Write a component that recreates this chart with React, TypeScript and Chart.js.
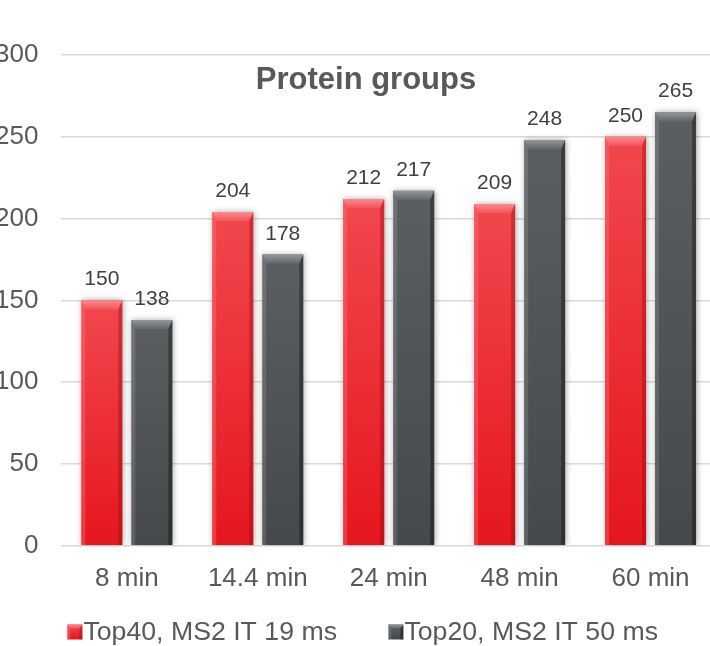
import React, { useEffect, useRef } from "react";
import { Chart, registerables } from "chart.js";
Chart.register(...registerables);

const categories = ["8 min", "14.4 min", "24 min", "48 min", "60 min"];
const top40Values = [150, 204, 212, 209, 250];
const top20Values = [138, 178, 217, 248, 265];
const seriesNames = ["Top40, MS2 IT 19 ms", "Top20, MS2 IT 50 ms"];
const yMin = 0;
const yMax = 300;
const yStep = 50;
const chartTitle = "Protein groups";

const FONT = '"Liberation Sans", Arial, Helvetica, sans-serif';
const TEXT = "#595959";
const SHIFT = 28;
const CW = 788;
const CH = 646;

const palettes = [
  { top: "#f2474e", bottom: "#e5161f", bevelTop: "#fa8a8e", bevelBottom: "#f2555b", left: "rgba(255,120,125,0.35)", right: "rgba(150,0,5,0.35)" },
  { top: "#5c5f62", bottom: "#46494c", bevelTop: "#94979a", bevelBottom: "#63666a", left: "rgba(255,255,255,0.12)", right: "rgba(0,0,0,0.35)" },
];

function bevelRect(c: CanvasRenderingContext2D, l: number, y: number, r: number, base: number, pal: any, b: number, s: number) {
  const g = c.createLinearGradient(0, y, 0, y + b);
  g.addColorStop(0, pal.bevelTop);
  g.addColorStop(1, pal.bevelBottom);
  c.beginPath();
  c.moveTo(l, y);
  c.lineTo(r, y);
  c.lineTo(r - s, y + b);
  c.lineTo(l + s, y + b);
  c.closePath();
  c.fillStyle = g;
  c.fill();
  c.beginPath();
  c.moveTo(l, y);
  c.lineTo(l + s, y + b);
  c.lineTo(l + s, base);
  c.lineTo(l, base);
  c.closePath();
  c.fillStyle = pal.left;
  c.fill();
  c.beginPath();
  c.moveTo(r, y);
  c.lineTo(r - s, y + b);
  c.lineTo(r - s, base);
  c.lineTo(r, base);
  c.closePath();
  c.fillStyle = pal.right;
  c.fill();
}

const barStyle = {
  id: "barStyle",
  beforeDatasetsDraw(chart: any) {
    const c = chart.ctx;
    c.save();
    c.shadowColor = "rgba(0,0,0,0.35)";
    c.shadowBlur = 6;
    c.shadowOffsetX = 1;
    c.shadowOffsetY = 0;
  },
  afterDatasetsDraw(chart: any) {
    const c = chart.ctx;
    c.restore();
    chart.data.datasets.forEach((ds: any, di: number) => {
      const meta = chart.getDatasetMeta(di);
      const pal = palettes[di];
      meta.data.forEach((el: any, i: number) => {
        const { x, y, base, width } = el.getProps(["x", "y", "base", "width"], true);
        const l = x - width / 2;
        const r = x + width / 2;
        c.save();
        bevelRect(c, l, y, r, base, pal, Math.min(9, (base - y) / 2), 4);
        c.restore();
        c.save();
        c.font = `21px ${FONT}`;
        c.fillStyle = "#404040";
        c.textAlign = "center";
        c.textBaseline = "alphabetic";
        c.fillText(String(ds.data[i]), x, y - 15);
        c.restore();
      });
    });
  },
  afterDraw(chart: any) {
    const c = chart.ctx;
    const cx = chart.width / 2;
    c.save();
    c.font = `bold 31px ${FONT}`;
    c.fillStyle = TEXT;
    c.textAlign = "center";
    c.textBaseline = "alphabetic";
    c.fillText(chartTitle, cx, 89);
    c.restore();

    const area = chart.chartArea;
    const startX = area.left + 6;
    const pitch = 321;
    const cy = 632;
    chart.data.datasets.forEach((ds: any, di: number) => {
      const pal = palettes[di];
      const mx = startX + di * pitch;
      const size = 15;
      const top = cy - size / 2;
      c.save();
      const g = c.createLinearGradient(0, top, 0, top + size);
      g.addColorStop(0, pal.top);
      g.addColorStop(1, pal.bottom);
      c.fillStyle = g;
      c.fillRect(mx, top, size, size);
      bevelRect(c, mx, top, mx + size, top + size, pal, 4, 3);
      c.fillStyle = TEXT;
      c.font = `26.7px ${FONT}`;
      c.textAlign = "left";
      c.textBaseline = "middle";
      c.fillText(ds.label, mx + size + 1, cy + 1);
      c.restore();
    });
  },
};

function barGradient(di: number) {
  return (ctx: any) => {
    const chart = ctx.chart;
    const pal = palettes[di];
    if (!chart.chartArea || ctx.type !== "data") return pal.bottom;
    const ys = chart.scales.y;
    const top = ys.getPixelForValue(ctx.raw);
    const bot = ys.getPixelForValue(0);
    const g = chart.ctx.createLinearGradient(0, top, 0, bot);
    g.addColorStop(0, pal.top);
    g.addColorStop(1, pal.bottom);
    return g;
  };
}

export default function App() {
  const ref = useRef<HTMLCanvasElement>(null);
  useEffect(() => {
    if (!ref.current) return;
    const chart = new Chart(ref.current, {
      type: "bar",
      data: {
        labels: categories,
        datasets: [
          { label: seriesNames[0], data: top40Values, backgroundColor: barGradient(0), borderWidth: 0, categoryPercentage: 0.764, barPercentage: 0.82 },
          { label: seriesNames[1], data: top20Values, backgroundColor: barGradient(1), borderWidth: 0, categoryPercentage: 0.764, barPercentage: 0.82 },
        ],
      },
      options: {
        responsive: false,
        animation: false,
        devicePixelRatio: 1,
        layout: { padding: { left: 0, right: 44, top: 55, bottom: 35 } },
        plugins: {
          legend: { display: false },
          title: { display: false },
          tooltip: { enabled: false },
        },
        scales: {
          x: {
            grid: { display: false, drawTicks: false },
            border: { display: false },
            ticks: { color: TEXT, font: { family: FONT, size: 26 }, padding: 17, maxRotation: 0 },
          },
          y: {
            min: yMin,
            max: yMax,
            grid: { color: "#d9d9d9", lineWidth: 1.5, drawTicks: false },
            border: { display: false },
            ticks: { stepSize: yStep, color: TEXT, font: { family: FONT, size: 26 }, padding: 23 },
          },
        },
      },
      plugins: [barStyle],
    });
    return () => chart.destroy();
  }, []);
  return (
    <div style={{ position: "fixed", left: -SHIFT, top: 0, width: CW, height: CH, background: "#fff" }}>
      <canvas ref={ref} width={CW} height={CH} style={{ width: CW, height: CH, display: "block" }} />
    </div>
  );
}
